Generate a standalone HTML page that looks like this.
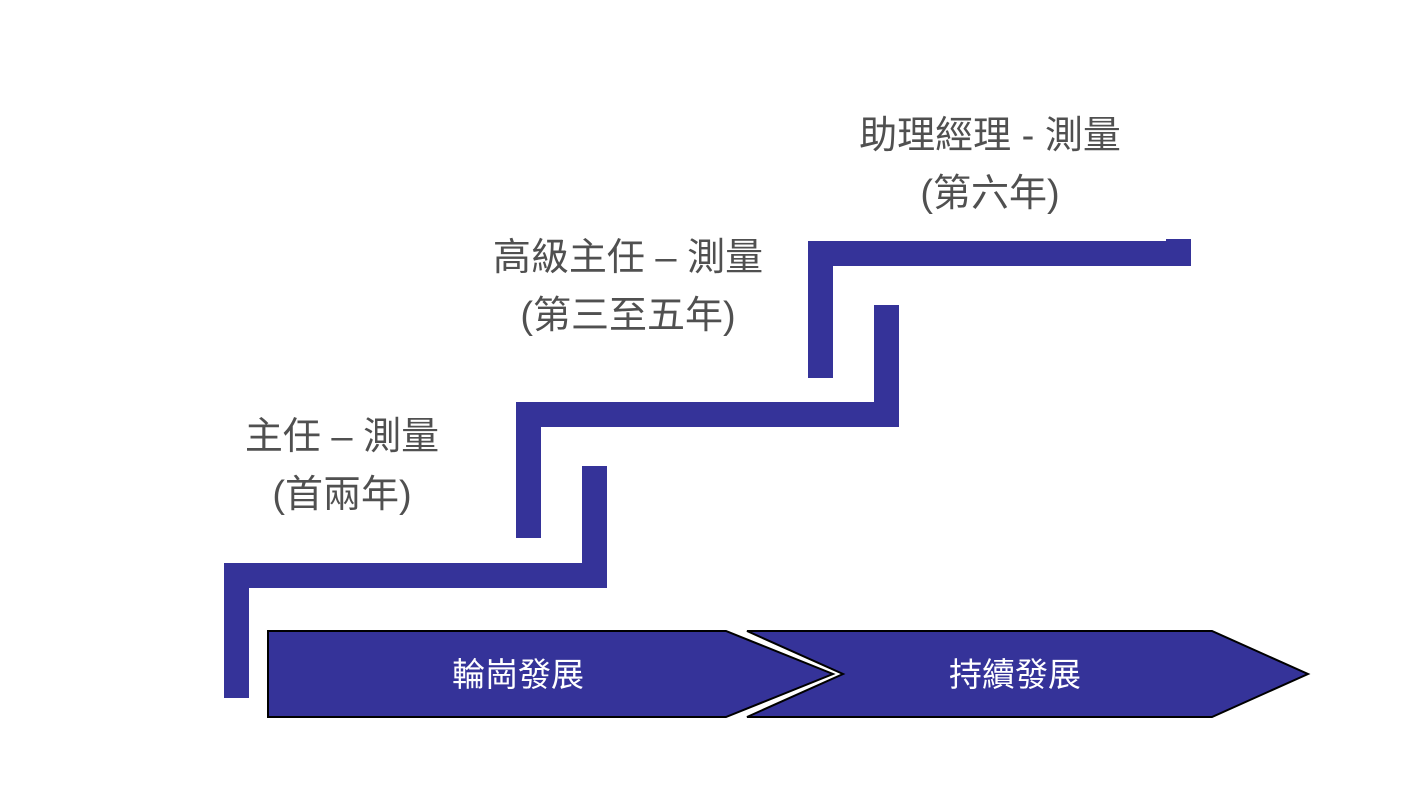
<!DOCTYPE html>
<html><head><meta charset="utf-8"><style>
html,body{margin:0;padding:0;background:#fff;}
body{width:1408px;height:793px;position:relative;overflow:hidden;font-family:"Liberation Sans","Noto Sans CJK TC",sans-serif;}
.t{position:absolute;color:#505050;font-size:38px;text-align:center;line-height:58px;white-space:nowrap;}
.w{position:absolute;color:#fff;font-size:33px;text-align:center;white-space:nowrap;}
</style></head><body>
<svg width="1408" height="793" style="position:absolute;left:0;top:0">
<g fill="#353399">
<polygon points="224,563 582,563 582,466 607,466 607,588 249,588 249,698 224,698"/>
<polygon points="516,402 874,402 874,305 899,305 899,427 541,427 541,538 516,538"/>
<polygon points="808,241 1166,241 1166,239 1191,239 1191,266 833,266 833,378 808,378"/>
<polygon points="268,631 726,631 833,674 726,717 268,717" stroke="#000" stroke-width="2"/>
<polygon points="747,631 1212,631 1308,674 1212,717 747,717 843,674" stroke="#000" stroke-width="2"/>
</g>
</svg>
<div class="t" style="left:192px;width:300px;top:408px">主任 – 測量<br>(首兩年)</div>
<div class="t" style="left:478px;width:300px;top:229px">高級主任 – 測量<br>(第三至五年)</div>
<div class="t" style="left:840px;width:300px;top:107px">助理經理 - 測量<br>(第六年)</div>
<div class="w" style="left:418px;width:200px;top:648px">輪崗發展</div>
<div class="w" style="left:915px;width:200px;top:648px">持續發展</div>
</body></html>
